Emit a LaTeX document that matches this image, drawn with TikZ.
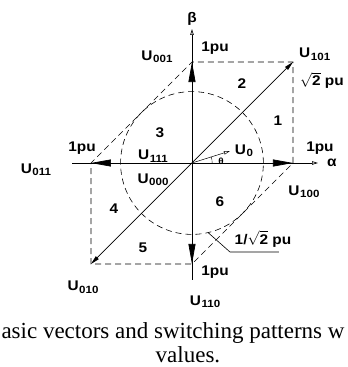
\documentclass[tikz,border=0pt]{standalone}
\usepackage{amsmath}
\usepackage{fontspec}
\setmainfont{Liberation Serif}
\newfontfamily\labfont[FakeStretch=1.1]{Liberation Sans}
\usetikzlibrary{arrows.meta}

\newcommand{\uvec}[1]{U\kern0.6pt\raisebox{-2.5pt}{\fontsize{10.5}{10.5}\selectfont #1}}

\begin{document}
\begin{tikzpicture}[
    x=101pt, y=101pt,
    lab/.style={font=\labfont\bfseries\fontsize{14}{14}\selectfont, inner sep=0pt},
    axis/.style={line width=0.7pt, -{Triangle[open,length=6pt,width=3.5pt]}},
    basevec/.style={line width=0.7pt, -{Triangle[length=20pt,width=7pt]}},
    diagvec/.style={line width=0.7pt, -{Triangle[length=9pt,width=4pt]}},
    hexline/.style={line width=0.6pt, dash pattern=on 6pt off 4pt},
    caption/.style={font=\fontsize{23}{23}\selectfont, inner sep=0pt, anchor=base}
]
\useasboundingbox (-1.901,-2.020) rectangle (1.535,1.614);

% vector tips
\coordinate (O) at (0,0);
\coordinate (V100) at (1,0);
\coordinate (V101) at (1,1);
\coordinate (V001) at (0,1);
\coordinate (V011) at (-1,0);
\coordinate (V010) at (-1,-1);
\coordinate (V110) at (0,-1);
\coordinate (Aleft) at (-1.188,0);
\coordinate (Aright) at (1.248,0);
\coordinate (Bbot) at (0,-1.158);
\coordinate (Btop) at (0,1.327);

% hexagon and circle
\draw[hexline] (V100) -- (V101) -- (V001) -- (V011) -- (V010) -- (V110) -- cycle;
\draw[hexline] (O) circle (0.707);

% axes
\draw[axis] (Aleft) -- (Aright);
\draw[axis] (Bbot) -- (Btop);
\node[lab] (alpha) at (1.386,0) {α};
\node[lab] (beta) at (0,1.426) {β};

% basic vectors
\draw[basevec] (O) -- (V100);
\draw[basevec] (O) -- (V001);
\draw[basevec] (O) -- (V011);
\draw[basevec] (O) -- (V110);
\draw[diagvec] (O) -- (V101);
\draw[diagvec] (O) -- (V010);

% reference vector
\coordinate (U0) at (17.5:0.394);
\draw[line width=0.5pt, -{Triangle[open,length=6pt,width=3.5pt]}] (O) -- (U0);
\draw[line width=0.4pt] (0.2,0) arc (0:17.5:0.2);
\node[lab, font=\labfont\bfseries\fontsize{9}{9}\selectfont] (theta) at (0.287,0.020) {θ};

% labels
\node[lab] (l001) at (-0.347,1.050) {\uvec{001}};
\node[lab] (l101) at (1.215,1.075) {\uvec{101}};
\node[lab] (l011) at (-1.545,-0.069) {\uvec{011}};
\node[lab] (l111) at (-0.386,0.069) {\uvec{111}};
\node[lab] (l000) at (-0.386,-0.168) {\uvec{000}};
\node[lab] (l0) at (0.515,0.119) {\uvec{0}};
\node[lab] (l100) at (1.109,-0.287) {\uvec{100}};
\node[lab] (l010) at (-1.079,-1.228) {\uvec{010}};
\node[lab] (l110) at (0.129,-1.376) {\uvec{110}};

\node[lab] (pu001) at (0.228,1.139) {1pu};
\node[lab] (pu011) at (-1.089,0.149) {1pu};
\node[lab] (pu100) at (1.267,0.149) {1pu};
\node[lab] (pu110) at (0.228,-1.079) {1pu};
\node[lab] (pu101) at (1.287,0.820) {$\sqrt{\textbf{2}}$ pu};
\node[lab] (puhalf) at (0.703,-0.752) {1/$\sqrt{\textbf{2}}$ pu};

% sectors
\node[lab] (s1) at (0.851,0.416) {1};
\node[lab] (s2) at (0.495,0.782) {2};
\node[lab] (s3) at (-0.317,0.297) {3};
\node[lab] (s4) at (-0.772,-0.455) {4};
\node[lab] (s5) at (-0.485,-0.842) {5};
\node[lab] (s6) at (0.277,-0.386) {6};

% leader to the circle
\coordinate (Rpt) at (-77:0.707);
\coordinate (Lbend) at (0.376,-0.881);
\coordinate (Lend) at (0.861,-0.881);
\draw[line width=0.6pt] (Rpt) -- (Lbend) -- (Lend);

% caption
\node[caption] (cap1) at (-0.188,-1.742) {asic vectors and switching patterns w};
\node[caption] (cap2) at (-0.040,-1.980) {values.};
\end{tikzpicture}
\end{document}
